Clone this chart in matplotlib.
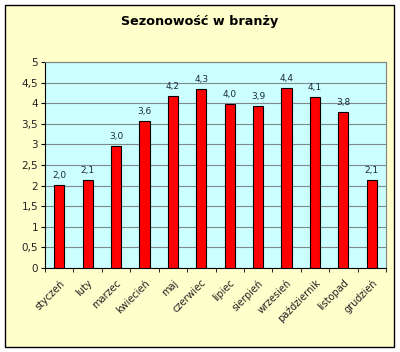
import numpy as np
import matplotlib.pyplot as plt
from matplotlib.patches import Rectangle

miesiace = ['styczeń', 'luty', 'marzec', 'kwiecień', 'maj', 'czerwiec',
            'lipiec', 'sierpień', 'wrzesień', 'październik', 'listopad', 'grudzień']
wartosci = [2.01, 2.13, 2.96, 3.56, 4.17, 4.34, 3.99, 3.94, 4.36, 4.14, 3.79, 2.13]
yticks = [0, 0.5, 1, 1.5, 2, 2.5, 3, 3.5, 4, 4.5, 5]

fig = plt.figure(figsize=(4, 3.52), dpi=100)
fig.patch.set_facecolor('white')

# ramka wykresu
fig.patches.append(Rectangle((5/400, 1-347/352), 389/400, 342/352, transform=fig.transFigure,
                             facecolor='#FFFFCC', edgecolor='black', linewidth=1, zorder=-10))

ax = fig.add_axes([45/400, 1-268/352, 341/400, 206/352])
ax.set_facecolor('#CCFFFF')

x = np.arange(len(miesiace))
bars = ax.bar(x, wartosci, width=0.36, color='#FF0000', edgecolor='black', linewidth=0.8, zorder=3)

for xi, v in zip(x, wartosci):
	ax.text(xi, v + 0.12, ('%.1f' % v).replace('.', ','), ha='center', va='bottom',
	        fontsize=6.5, color='#1a2a3a')

ax.set_xlim(-0.5, len(miesiace)-0.5)
ax.set_ylim(0, 5)
ax.set_yticks(yticks)
ax.set_yticklabels([('%g' % t).replace('.', ',') for t in yticks], fontsize=7.5, color='#222222')
ax.yaxis.grid(True, color='#7f8a8a', linewidth=0.8, zorder=1)

ax.set_xticks(x)
ax.set_xticklabels(miesiace, rotation=45, ha='right', rotation_mode='anchor', fontsize=7, color='#222222')
ax.tick_params(axis='x', which='major', length=0, pad=7)
ax.set_xticks(np.arange(-0.5, len(miesiace)), minor=True)
ax.tick_params(axis='x', which='minor', length=3, color='black')
ax.tick_params(axis='y', length=3, color='black', pad=2)

for s in ['top', 'right']:
	ax.spines[s].set_color('#808080')
	ax.spines[s].set_linewidth(0.8)
ax.spines['left'].set_color('black')
ax.spines['bottom'].set_color('black')

fig.text(200/400, 1-22/352, 'Sezonowość w branży', ha='center', va='center',
         fontsize=9.2, fontweight='bold', color='black')

fig.savefig('out.png', dpi=100)
